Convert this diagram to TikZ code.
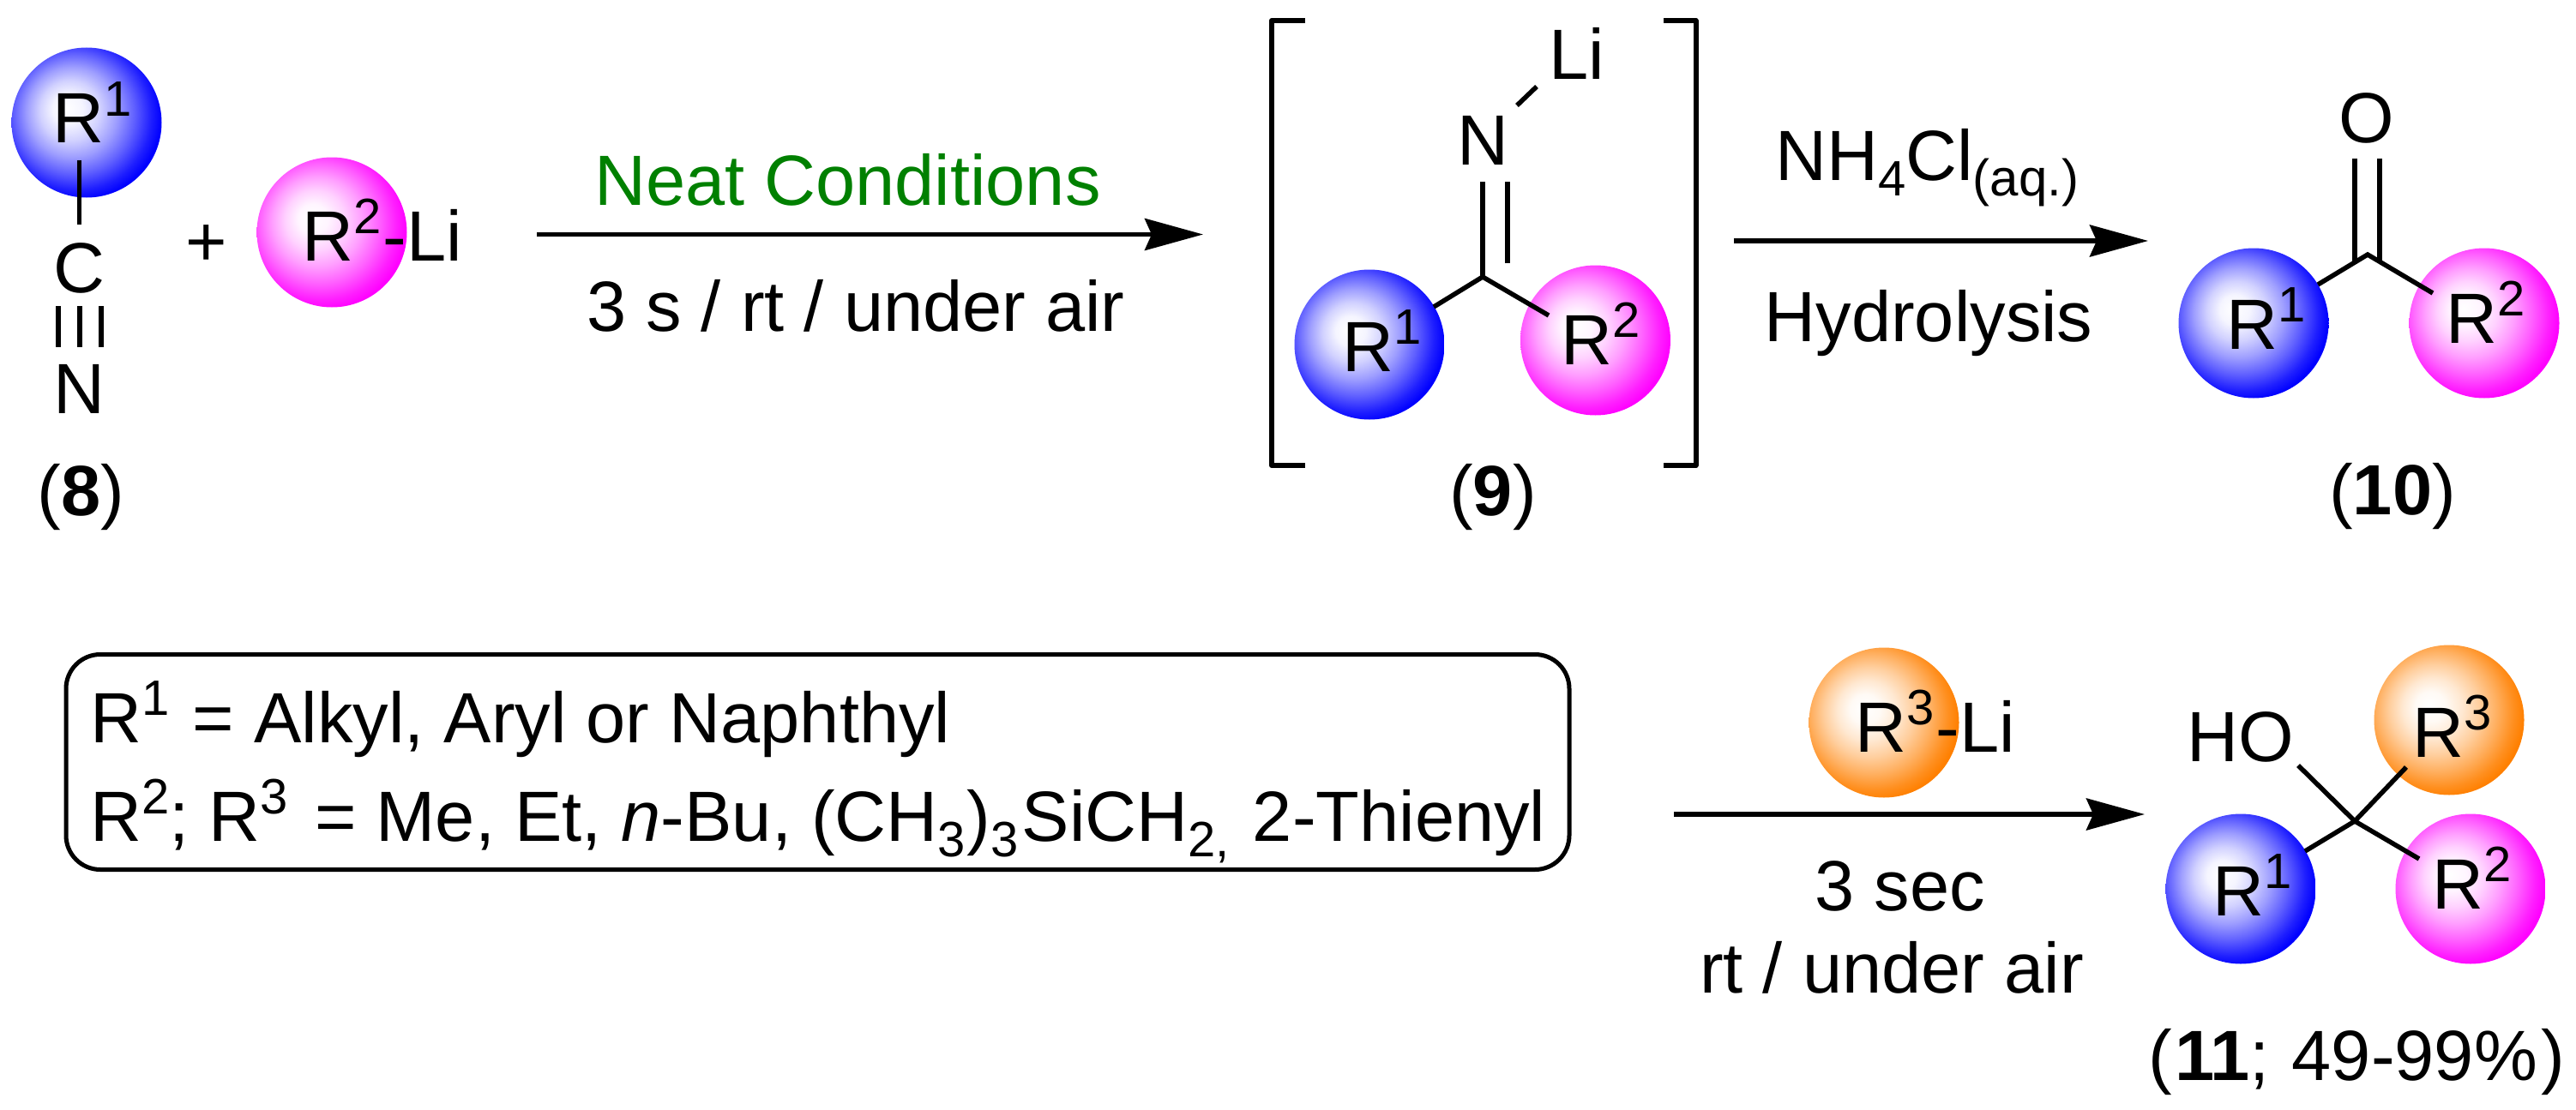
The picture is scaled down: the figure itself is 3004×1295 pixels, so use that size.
\documentclass[tikz,border=0pt]{standalone}
\usepackage{fontspec}
\setmainfont{Liberation Sans}
\usetikzlibrary{arrows.meta}
\definecolor{ballblue}{rgb}{0,0,1}
\definecolor{ballmag}{rgb}{1,0,1}
\definecolor{ballora}{rgb}{1,0.5,0}
\definecolor{neatgreen}{rgb}{0,0.5,0}
\newcommand{\defball}[2]{\pgfdeclareradialshading{#1}{\pgfpoint{-7bp}{5bp}}{color(0bp)=(white); color(5bp)=(#2!4); color(10bp)=(#2!18); color(15bp)=(#2!38); color(20bp)=(#2!62); color(25bp)=(#2!88); color(28bp)=(#2); color(50bp)=(#2)}}
\defball{shblue}{ballblue}
\defball{shmag}{ballmag}
\defball{shora}{ballora}
\newcommand{\supx}[1]{\raisebox{32pt}{\fontsize{58}{58}\selectfont #1}}
\newcommand{\subx}[1]{\raisebox{-18pt}{\fontsize{58}{58}\selectfont #1}}
\tikzset{
  ball/.style={circle,inner sep=0pt,minimum size=175pt,shade},
  blueball/.style={ball,shading=shblue},
  magball/.style={ball,shading=shmag},
  oraball/.style={ball,shading=shora},
  lab/.style={inner sep=0pt,anchor=base west,font=\fontsize{83}{96}\selectfont},
  clab/.style={inner sep=0pt,anchor=base,font=\fontsize{83}{96}\selectfont},
  bond/.style={line width=5.5pt,black},
  rxn/.style={line width=5.5pt,black,-{Stealth[length=68pt,width=37pt,inset=8pt]}},
  brk/.style={line width=6pt,black,line join=round}
}
\begin{document}
\begin{tikzpicture}[x=1pt,y=-1pt]
\useasboundingbox (0,0) rectangle (3004,1295);
% balls
\node[blueball] (a1) at (101,143) {};
\node[magball] (a2) at (387,271) {};
\node[blueball] (b1) at (1597,402) {};
\node[magball] (b2) at (1860.5,397) {};
\node[blueball] (c1) at (2628,377) {};
\node[magball] (c2) at (2897,377) {};
\node[oraball] (d3) at (2197,843) {};
\node[oraball] (e3) at (2856,840) {};
\node[blueball] (e1) at (2613,1037) {};
\node[magball] (e2) at (2881,1037) {};
% compound 8
\coordinate (a1b) at (92.5,187);
\coordinate (a1c) at (92.5,262);
\coordinate (t1a) at (68,357);
\coordinate (t1b) at (68,405);
\coordinate (t2a) at (93,357);
\coordinate (t2b) at (93,405);
\coordinate (t3a) at (118,357);
\coordinate (t3b) at (118,405);
\node[clab] (aC) at (92.5,341) {C};
\node[clab] (aN) at (92.5,482) {N};
\draw[bond] (a1b) -- (a1c);
\draw[bond] (t1a) -- (t1b);
\draw[bond] (t2a) -- (t2b);
\draw[bond] (t3a) -- (t3b);
\node[lab] (aR) at (61.5,167) {R\supx{1}};
\node[clab] (plus) at (241,310) {+};
\node[lab] (aLi) at (352.5,304) {R\supx{2}\kern2pt-Li};
\node[clab] (l8) at (94.5,601) {(\textbf{8})};
% arrow 1
\coordinate (r1s) at (626,273.5);
\coordinate (r1e) at (1403,273.5);
\draw[rxn] (r1s) -- (r1e);
\node[lab,text=neatgreen] (neat) at (693,239) {Neat Conditions};
\node[lab] (cond1) at (684,386) {3 s / rt / under air};
% compound 9
\coordinate (bC) at (1729,323);
\coordinate (bC2) at (1758,307);
\node[clab] (bN) at (1729,193) {N};
\node[lab] (bLi) at (1806,93) {Li};
\coordinate (bNa) at (1769,123);
\coordinate (bNb) at (1792,101);
\coordinate (bd1) at (1729,212);
\coordinate (bd2) at (1758,212);
\coordinate (bR1) at (1672,358);
\coordinate (bR2) at (1806,368);
\draw[bond,line join=miter] (bR1) -- (bC) -- (bR2);
\draw[bond] (bC) -- (bd1);
\draw[bond] (bC2) -- (bd2);
\draw[bond] (bNa) -- (bNb);
\node[lab] (bR1t) at (1565.5,433) {R\supx{1}};
\node[lab] (bR2t) at (1820.5,425) {R\supx{2}};
\coordinate (lbA) at (1522,24);
\coordinate (lbB) at (1483,24);
\coordinate (lbC) at (1483,543);
\coordinate (lbD) at (1522,543);
\coordinate (rbA) at (1940,24);
\coordinate (rbB) at (1977.5,24);
\coordinate (rbC) at (1977.5,543);
\coordinate (rbD) at (1940,543);
\draw[brk] (lbA) -- (lbB) -- (lbC) -- (lbD);
\draw[brk] (rbA) -- (rbB) -- (rbC) -- (rbD);
\node[clab] (l9) at (1741,601) {(\textbf{9})};
% arrow 2
\coordinate (r2s) at (2022,281);
\coordinate (r2e) at (2505,281);
\draw[rxn] (r2s) -- (r2e);
\node[lab] (nh4) at (2070,210) {NH\subx{4}Cl\raisebox{-18pt}{\fontsize{60}{60}\selectfont (aq.)}};
\node[lab] (hyd) at (2057.5,398) {Hydrolysis};
% compound 10
\coordinate (cC) at (2761,297);
\node[clab] (cO) at (2760,167) {O};
\coordinate (cd1) at (2746,185);
\coordinate (cd2) at (2775,185);
\coordinate (cd1b) at (2746,305);
\coordinate (cd2b) at (2775,305);
\coordinate (cR1) at (2703,332);
\coordinate (cR2) at (2837,342);
\draw[bond,line join=miter] (cR1) -- (cC) -- (cR2);
\draw[bond] (cd1) -- (cd1b);
\draw[bond] (cd2) -- (cd2b);
\node[lab] (cR1t) at (2596.5,407) {R\supx{1}};
\node[lab] (cR2t) at (2852.5,400) {R\supx{2}};
\node[clab] (l10) at (2790,600) {(\textbf{10})};
% box
\node[draw,line width=5pt,rounded corners=40pt,inner sep=0pt,minimum width=1753pt,minimum height=251pt] (box) at (953.5,889) {};
\node[lab] (bx1) at (105.5,866) {R\supx{1} \kern4pt= Alkyl, Aryl or Naphthyl};
\node[lab] (bx2) at (105.5,981) {R\supx{2}; R\supx{3} \kern8pt= Me, Et, \textit{n}-Bu, (CH\subx{3}\kern2pt)\subx{3}\kern4ptSiCH\subx{2,} \kern4pt2-Thienyl};
% arrow 3
\coordinate (r3s) at (1952,950);
\coordinate (r3e) at (2501,950);
\draw[rxn] (r3s) -- (r3e);
\node[lab] (dLi) at (2163.5,877) {R\supx{3}\kern2pt-Li};
\node[clab] (c3a) at (2216,1062) {3 sec};
\node[clab] (c3b) at (2206,1158) {rt / under air};
% compound 11
\coordinate (eC) at (2746,958);
\coordinate (eHO) at (2680,893);
\coordinate (eR3) at (2806,895);
\coordinate (eR1) at (2688,993);
\coordinate (eR2) at (2821,1002);
\draw[bond,line join=miter] (eHO) -- (eC) -- (eR2);
\draw[bond,line join=miter] (eR3) -- (eC) -- (eR1);
\node[lab] (eHOt) at (2550,888) {HO};
\node[lab] (eR3t) at (2813.5,883) {R\supx{3}};
\node[lab] (eR1t) at (2580,1068) {R\supx{1}};
\node[lab] (eR2t) at (2836,1060) {R\supx{2}};
\node[clab] (l11) at (2748.5,1260) {(\kern3pt\textbf{11}; \kern3pt49-99\%\kern5pt)};
\end{tikzpicture}
\end{document}
